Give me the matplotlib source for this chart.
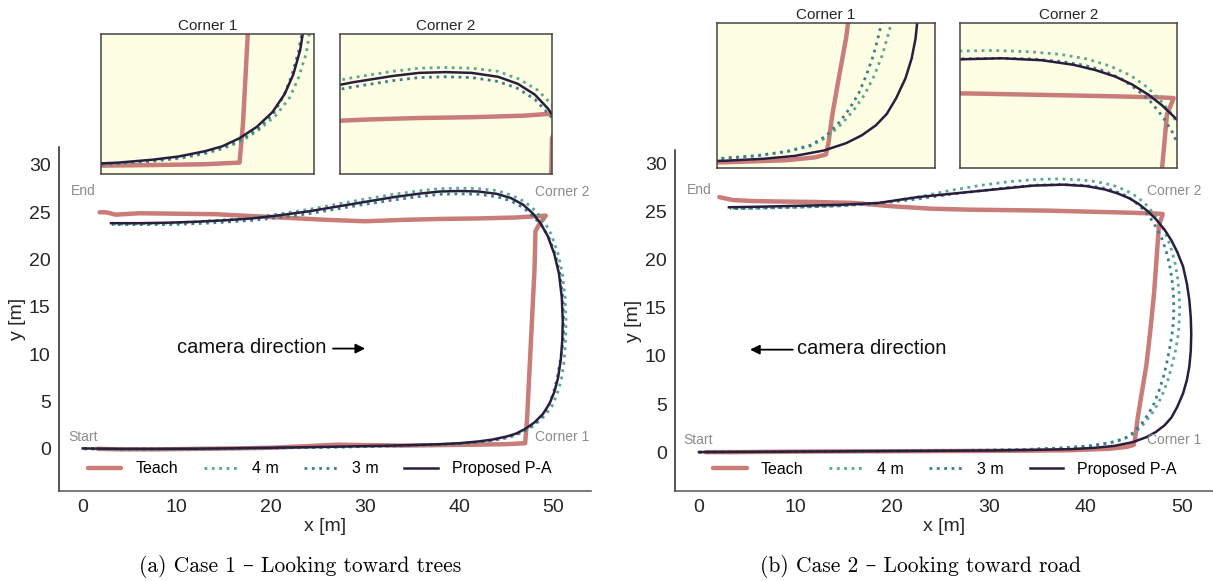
import matplotlib
matplotlib.use('Agg')
import matplotlib.pyplot as plt

# ---- Case 1 (looking toward trees) ----
teach1_x = [1.6, 4, 8, 12, 16, 20, 24, 27, 30, 34, 38, 42, 45, 47.0, 47.2, 47.4, 47.6, 47.8, 48.0, 48.1,
            48.5, 49.2, 48.4, 46, 42, 38, 34, 30, 26, 22, 18, 14, 10, 6, 3.5, 2.5, 1.8]
teach1_y = [0.0, -0.05, -0.05, 0.0, 0.05, 0.12, 0.3, 0.45, 0.4, 0.35, 0.4, 0.45, 0.5, 0.6, 3.0, 7, 11, 15, 19, 23.0,
            23.75, 24.65, 24.6, 24.45, 24.35, 24.3, 24.2, 24.05, 24.2, 24.4, 24.6, 24.8, 24.85, 24.9, 24.75, 25.0, 25.0]

prop1_x = [0, 4, 8, 12, 16, 20, 24, 28, 32, 35, 38, 40, 42, 43.5, 45, 46, 47, 48, 48.9, 49.6, 50.1, 50.5, 50.8,
           50.95, 51.0, 50.9, 50.6, 50.1, 49.4, 48.6, 47.8, 46.8, 45.5, 44, 42, 40, 38, 36, 33, 30, 27, 24, 21,
           18, 15, 12, 9, 6, 3]
prop1_y = [0.05, 0.0, 0.0, 0.02, 0.06, 0.12, 0.18, 0.25, 0.33, 0.4, 0.5, 0.6, 0.78, 0.98, 1.3, 1.6, 2.1, 2.8, 3.7,
           4.8, 6.0, 7.5, 9.5, 11.5, 13.5, 16, 18.5, 20.6, 22.5, 23.9, 24.9, 25.8, 26.5, 26.95, 27.2, 27.25, 27.2,
           27.0, 26.6, 26.1, 25.6, 25.1, 24.7, 24.35, 24.15, 24.0, 23.9, 23.85, 23.85]

m4_1_x = [0.2, 4, 8, 12, 16, 20, 24, 28, 32, 35, 38, 40, 42, 43.5, 45, 46, 47.1, 48.1, 49.1, 49.9, 50.4, 50.85,
          51.15, 51.3, 51.35, 51.25, 50.95, 50.45, 49.75, 48.95, 48.05, 47.0, 45.6, 44, 42, 40, 38, 36, 33, 30,
          27, 24, 21, 18, 15, 12, 9, 6, 3.2]
m4_1_y = [0.0, -0.05, -0.05, -0.03, 0.02, 0.08, 0.14, 0.2, 0.28, 0.35, 0.44, 0.52, 0.68, 0.85, 1.15, 1.45, 1.9,
          2.6, 3.5, 4.6, 5.8, 7.3, 9.3, 11.5, 13.5, 16, 18.6, 20.8, 22.7, 24.2, 25.2, 26.1, 26.8, 27.3, 27.5,
          27.55, 27.5, 27.3, 26.9, 26.4, 25.85, 25.3, 24.85, 24.45, 24.2, 24.0, 23.85, 23.8, 23.75]

m3_1_x = [0.1, 4, 8, 12, 16, 20, 24, 28, 32, 35, 38, 40, 42, 43.5, 45, 46, 47.1, 48.1, 48.95, 49.55, 50.0, 50.4,
          50.75, 51.05, 51.1, 51.0, 50.7, 50.2, 49.5, 48.7, 47.8, 46.8, 45.5, 44, 42, 40, 38, 36, 33, 30, 27, 24,
          21, 18, 15, 12, 9, 6, 3.1]
m3_1_y = [0.02, -0.02, -0.02, 0.0, 0.04, 0.1, 0.16, 0.22, 0.3, 0.37, 0.46, 0.55, 0.72, 0.9, 1.2, 1.5, 2.0, 2.7,
          3.6, 4.7, 5.9, 7.4, 9.4, 11.5, 13.5, 16, 18.5, 20.6, 22.4, 23.7, 24.6, 25.5, 26.2, 26.65, 26.9, 26.95,
          26.9, 26.7, 26.3, 25.85, 25.35, 24.85, 24.45, 24.15, 23.95, 23.8, 23.7, 23.7, 23.7]

# ---- Case 2 (looking toward road) ----
teach2_x = [0.7, 4, 10, 16, 22, 28, 34, 38.5, 42.5, 44.3, 45.0, 45.15, 45.4, 45.8, 46.3, 46.7, 47.1, 47.35, 47.6,
            48.0, 47.3, 44, 40, 36, 32, 28, 24, 20, 16, 12, 8, 5.5, 3.5, 2.1]
teach2_y = [0.0, 0.0, 0.05, 0.08, 0.1, 0.12, 0.15, 0.2, 0.35, 0.55, 0.75, 1.5, 3.5, 6, 9, 12.5, 16.5, 20, 23.5,
            24.75, 24.8, 24.9, 25.0, 25.1, 25.15, 25.2, 25.3, 25.55, 25.9, 26.0, 26.05, 26.1, 26.2, 26.5]

prop2_x = [0, 5, 10, 15, 20, 25, 30, 34, 38.5, 41, 43, 44.9, 46.3, 47.3, 48.2, 48.9, 49.5, 50.1, 50.5, 50.75,
           50.9, 50.95, 50.9, 50.75, 50.5, 50.1, 49.5, 48.9, 48.2, 47.3, 46.5, 45.5, 44.5, 43.3, 42, 40.1, 37.7,
           34.6, 30.6, 26.6, 22.6, 18.6, 14.6, 10, 6, 3.1]
prop2_y = [0.0, 0.03, 0.06, 0.08, 0.11, 0.14, 0.17, 0.22, 0.31, 0.45, 0.65, 1.04, 1.55, 2.1, 2.8, 3.6, 4.7, 6.1,
           7.5, 8.9, 10.5, 12.3, 14.0, 15.8, 17.5, 19.3, 20.8, 22.0, 23.1, 24.2, 25.0, 25.8, 26.4, 26.9, 27.3,
           27.65, 27.8, 27.7, 27.3, 26.9, 26.5, 25.9, 25.7, 25.6, 25.5, 25.45]

m4_2_x = [0, 5, 10, 15, 20, 25, 30, 34, 38, 40.5, 42.5, 44, 45.1, 46.0, 46.8, 47.5, 48.1, 48.6, 49.0, 49.35, 49.6,
          49.7, 49.75, 49.7, 49.55, 49.3, 48.95, 48.5, 47.9, 47.2, 46.4, 45.4, 44.2, 42.8, 41.2, 39.4, 37.2, 35,
          32, 29, 26, 22.6, 18.6, 14.6, 10, 6, 3.3]
m4_2_y = [0.0, 0.03, 0.06, 0.09, 0.12, 0.16, 0.2, 0.28, 0.45, 0.65, 0.95, 1.35, 2.0, 2.9, 3.9, 5.0, 6.3, 7.7, 9.2,
          10.7, 12.2, 13.5, 15.0, 16.5, 18.0, 19.5, 20.9, 22.2, 23.5, 24.6, 25.6, 26.5, 27.2, 27.75, 28.1, 28.3,
          28.4, 28.35, 28.1, 27.7, 27.2, 26.5, 25.9, 25.6, 25.45, 25.35, 25.3]

m3_2_x = [0, 5, 10, 15, 20, 25, 30, 34, 38, 40.5, 42.5, 44, 45.0, 45.8, 46.5, 47.1, 47.6, 48.05, 48.4, 48.7,
          48.95, 49.1, 49.15, 49.1, 48.95, 48.7, 48.35, 47.9, 47.3, 46.6, 45.8, 44.9, 43.9, 42.7, 41.3, 39.5,
          37.5, 35, 32, 29, 26, 22.6, 18.6, 14.6, 10, 6, 3.2]
m3_2_y = [0.0, 0.03, 0.06, 0.09, 0.12, 0.16, 0.2, 0.28, 0.45, 0.66, 0.97, 1.4, 2.05, 2.95, 3.95, 5.05, 6.35, 7.75,
          9.2, 10.7, 12.2, 13.5, 15.0, 16.5, 18.0, 19.5, 20.9, 22.2, 23.4, 24.5, 25.4, 26.2, 26.8, 27.25, 27.55,
          27.75, 27.8, 27.75, 27.5, 27.15, 26.8, 26.3, 25.85, 25.6, 25.45, 25.35, 25.3]

xticks = [0, 10, 20, 30, 40, 50]
yticks = [0, 5, 10, 15, 20, 25, 30]

C_TEACH = '#c97c78'
C_4M = '#5aa88f'
C_3M = '#3d7f88'
C_PROP = '#2a1e3e'
GRAY = '#8c8c8c'

plt.rcParams['font.family'] = ['Liberation Sans', 'DejaVu Sans']

W, H = 1213, 581


def px_rect(x0, y0, x1, y1):
    # pixel box (top-left origin) -> figure fraction rect
    return [x0 / W, (H - y1) / H, (x1 - x0) / W, (y1 - y0) / H]


def draw_paths(ax, teach, m4, m3, prop, label=True):
    ax.plot(*teach, color=C_TEACH, lw=3.2, solid_capstyle='round', label='Teach' if label else None)
    ax.plot(*m4, color=C_4M, lw=2.0, ls=':', label='4 m' if label else None)
    ax.plot(*m3, color=C_3M, lw=2.0, ls=':', label='3 m' if label else None)
    ax.plot(*prop, color=C_PROP, lw=1.8, label='Proposed P-A' if label else None)


def setup_main(ax, xlim, ylim, legend_x):
    ax.set_xlim(*xlim)
    ax.set_ylim(*ylim)
    ax.set_xticks(xticks)
    ax.set_yticks(yticks)
    ax.tick_params(length=0, labelsize=14, pad=6, colors='#262626')
    for s in ['top', 'right']:
        ax.spines[s].set_visible(False)
    ax.spines['left'].set_color('#262626')
    ax.spines['bottom'].set_color('#555555')
    ax.spines['left'].set_linewidth(1.1)
    ax.spines['bottom'].set_linewidth(1.1)
    ax.set_xlabel('x [m]', fontsize=14, labelpad=1, color='#262626')
    ax.set_ylabel('y [m]', fontsize=14, labelpad=2, color='#262626')
    ax.legend(loc='center', bbox_to_anchor=(legend_x, 0.064), ncol=4, frameon=False, fontsize=11.5,
              handlelength=2.1, columnspacing=1.6, handletextpad=0.9)


def inset(fig, rect, title, xlim, ylim, data):
    ax = fig.add_axes(rect)
    ax.set_facecolor('#fefee4')
    draw_paths(ax, *data, label=False)
    ax.set_xlim(*xlim)
    ax.set_ylim(*ylim)
    ax.set_xticks([])
    ax.set_yticks([])
    for s in ax.spines.values():
        s.set_color('#444444')
        s.set_linewidth(1.1)
    ax.set_title(title, fontsize=11, pad=3, color='#262626')
    return ax


fig = plt.figure(figsize=(W / 100, H / 100), dpi=100)

# --- panel (a) ---
data1 = ((teach1_x, teach1_y), (m4_1_x, m4_1_y), (m3_1_x, m3_1_y), (prop1_x, prop1_y))
ax1 = fig.add_axes(px_rect(59, 147, 591, 491))
draw_paths(ax1, *data1)
setup_main(ax1, (-2.52, 54.0), (-4.45, 31.9), 0.49)
ax1.text(-1.3, 27.2, 'End', color=GRAY, fontsize=10, va='center')
ax1.text(-1.5, 1.25, 'Start', color=GRAY, fontsize=10, va='center')
ax1.text(48.1, 1.25, 'Corner 1', color=GRAY, fontsize=10, va='center')
ax1.text(48.1, 27.1, 'Corner 2', color=GRAY, fontsize=10, va='center')
ax1.text(10.0, 10.75, 'camera direction', fontsize=14.5, va='center', color='#111111')
ax1.annotate('', xy=(30.3, 10.6), xytext=(26.3, 10.6),
             arrowprops=dict(arrowstyle='-|>', color='black', lw=1.3, mutation_scale=14))

inset(fig, px_rect(101, 34, 314, 174), 'Corner 1', (39.0, 51.3), (-0.1, 8.5), data1)
inset(fig, px_rect(340, 34, 552, 174), 'Corner 2', (32.0, 48.1), (20.7, 29.7), data1)

# --- panel (b) ---
data2 = ((teach2_x, teach2_y), (m4_2_x, m4_2_y), (m3_2_x, m3_2_y), (prop2_x, prop2_y))
ax2 = fig.add_axes(px_rect(675, 150, 1213, 491))
draw_paths(ax2, *data2)
setup_main(ax2, (-2.48, 53.2), (-4.04, 31.4), 0.502)
ax2.text(-1.2, 27.2, 'End', color=GRAY, fontsize=10, va='center')
ax2.text(-1.6, 1.25, 'Start', color=GRAY, fontsize=10, va='center')
ax2.text(46.4, 1.25, 'Corner 1', color=GRAY, fontsize=10, va='center')
ax2.text(46.4, 27.1, 'Corner 2', color=GRAY, fontsize=10, va='center')
ax2.text(10.1, 10.8, 'camera direction', fontsize=14.5, va='center', color='#111111')
ax2.annotate('', xy=(5.0, 10.65), xytext=(10.0, 10.65),
             arrowprops=dict(arrowstyle='-|>', color='black', lw=1.3, mutation_scale=14))

inset(fig, px_rect(717, 23, 935, 168), 'Corner 1', (38.0, 52.0), (-0.2, 10.0), data2)
inset(fig, px_rect(960, 23, 1177, 168), 'Corner 2', (35.2, 48.2), (19.4, 30.5), data2)

# captions
serif = ['cmr10', 'DejaVu Serif']
fig.text(300 / W, 1 - 567 / H, '(a) Case 1 \u2013 Looking toward trees', family=serif, fontsize=15.5,
         ha='center', va='center')
fig.text(920 / W, 1 - 567 / H, '(b) Case 2 \u2013 Looking toward road', family=serif, fontsize=15.5,
         ha='center', va='center')

fig.savefig('out.png', dpi=100)
